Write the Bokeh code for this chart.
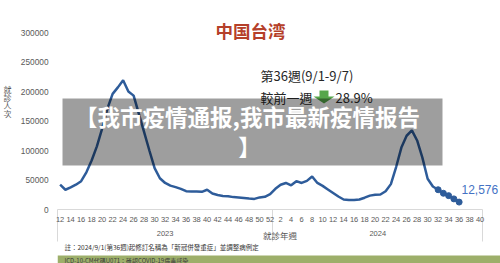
from bokeh.plotting import figure
from bokeh.layouts import column
from bokeh.models import (Range1d, FixedTicker, Label, BoxAnnotation, PolyAnnotation,
                          NumeralTickFormatter, LinearAxis)
from bokeh.embed import file_html
from bokeh.resources import INLINE

# ---------------- data ----------------
weeks_2023 = list(range(12, 53))
cases_2023 = [42000, 33500, 37500, 42000, 48000, 63000, 83000, 107000, 137000, 171000,
              196000, 207000, 219000, 200000, 193000, 162000, 131000, 100000, 70000, 53000,
              45000, 40500, 38000, 35000, 31000, 30500, 30500, 30000, 33500, 27000,
              24500, 23000, 22500, 21000, 20500, 19500, 18500, 18000, 20500, 21500,
              26000]
weeks_2024 = list(range(1, 41))
cases_2024 = [35000, 42000, 45000, 41000, 48000, 45000, 48500, 56000, 45000, 40000,
              34000, 28000, 22000, 17000, 16000, 16000, 17000, 20000, 23500, 25000,
              25500, 31000, 43000, 72000, 105000, 125000, 134000, 117000, 88000, 52000,
              39000, 33500, 27500, 23500, 18000, 12576]
marked_weeks_2024 = [32, 33, 34, 35, 36]
y_ticks = [0, 50000, 100000, 150000, 200000, 250000, 300000]
years = ["2023", "2024"]

title_text = "中国台湾"
week_text = "第36週(9/1-9/7)"
change_text = "較前一週"
change_value = "28.9%"
latest_text = "12,576"
banner_line1 = "【我市疫情通报,我市最新疫情报告"
banner_line2 = "】"
y_title = "就診人次"
x_title = "就診年週"
note_text = "註：2024/9/1(第36週)起修訂名稱為「新冠併發重症」並調整病例定"
footer_text = "ICD-10-CM代碼U071：確認COVID-19病毒感染"

# ---------------- categories -> positions ----------------
categories = [(years[0], w) for w in weeks_2023] + [(years[1], w) for w in weeks_2024]
pos = {c: i for i, c in enumerate(categories)}
n1 = len(weeks_2023)
n_all = len(categories)

line_x = [pos[(years[0], w)] for w in weeks_2023] + \
         [pos[(years[1], w)] for w in weeks_2024[:len(cases_2024)]]
line_y = cases_2023 + cases_2024
mark_x = [pos[(years[1], w)] for w in marked_weeks_2024]
mark_y = [cases_2024[weeks_2024.index(w)] for w in marked_weeks_2024]

tick_pos = [i for i, (yr, w) in enumerate(categories) if w % 2 == 0]
tick_lab = {i: str(categories[i][1]) for i in tick_pos}
separators = [-0.5, n1 - 0.5, n_all - 0.5]
year_pos = [(n1 - 1) / 2, n1 + (n_all - n1 - 1) / 2]

# ---------------- layout ----------------
W, H_MAIN, H_FOOT = 500, 241, 22
FL, FR, FT, FB = 55, 500, 0, 209
CAT_W = 5.25
SEP_LEN = 32
Y_AT_32 = 300000        # value shown at page y=32
x_end = -0.5 + (FR - FL) / CAT_W
y_end = Y_AT_32 * (FB - FT) / (FB - 32)


def y_val(Y):
    """page pixel row -> y data value (layout helper for the stacked y title)"""
    return (FB - Y) / (FB - FT) * y_end


p = figure(frame_width=FR - FL, frame_height=FB - FT,
           x_range=Range1d(-0.5, x_end), y_range=Range1d(0, y_end),
           output_backend="svg", toolbar_location=None,
           min_border_left=FL, min_border_right=W - FR,
           min_border_top=FT, min_border_bottom=H_MAIN - FB)
p.background_fill_color = "white"
p.border_fill_color = "white"
p.outline_line_color = None
p.xgrid.visible = False
p.ygrid.visible = False

LINE = "#2E5C9A"
p.line(line_x, line_y, line_color=LINE, line_width=2.5)
p.scatter(mark_x, mark_y, size=6, fill_color=LINE, line_color=LINE)

AX = "#595959"
xa = p.xaxis[0]
xa.ticker = FixedTicker(ticks=tick_pos, minor_ticks=separators)
xa.major_label_overrides = tick_lab
xa.bounds = (separators[0], separators[-1])
xa.major_tick_line_color = None
xa.major_tick_out = 0
xa.major_tick_in = 0
xa.minor_tick_line_color = "#D9D9D9"
xa.minor_tick_out = SEP_LEN
xa.minor_tick_in = 0
xa.axis_line_color = "#D9D9D9"
xa.major_label_text_font_size = "7.5px"
xa.major_label_text_color = AX
xa.major_label_text_font = "Liberation Sans"
xa.major_label_standoff = 7 - SEP_LEN

xa2 = LinearAxis(ticker=FixedTicker(ticks=year_pos, minor_ticks=[]),
                 major_label_overrides={year_pos[0]: years[0], year_pos[1]: years[1]},
                 axis_line_color=None, major_tick_line_color=None, minor_tick_line_color=None,
                 major_tick_out=0, major_tick_in=0, minor_tick_out=0, minor_tick_in=0,
                 major_label_text_font_size="7.5px", major_label_text_color=AX,
                 major_label_text_font="Liberation Sans", major_label_standoff=6,
                 axis_label=x_title, axis_label_standoff=-10,
                 axis_label_text_font="Noto Sans CJK TC", axis_label_text_font_size="8.5px",
                 axis_label_text_color=AX, axis_label_text_font_style="normal")
p.add_layout(xa2, "below")

ya = p.yaxis[0]
ya.ticker = FixedTicker(ticks=y_ticks)
ya.formatter = NumeralTickFormatter(format="0")
ya.axis_line_color = None
ya.major_tick_line_color = None
ya.major_tick_out = 0
ya.minor_tick_line_color = None
ya.minor_tick_out = 0
ya.major_label_text_font_size = "8.3px"
ya.major_label_text_color = AX
ya.major_label_text_font = "Liberation Sans"
ya.major_label_standoff = 9

# stacked vertical y title: one character per row, outside the value labels
title_rows = [88.5 + 8 * k for k in range(len(y_title))]
title_vals = [y_val(r) for r in title_rows]
yt = LinearAxis(ticker=FixedTicker(ticks=title_vals, minor_ticks=[]),
                major_label_overrides={v: ch for v, ch in zip(title_vals, y_title)},
                axis_line_color=None, major_tick_line_color=None, minor_tick_line_color=None,
                major_tick_out=0, major_tick_in=0, minor_tick_out=0, minor_tick_in=0,
                major_label_text_font_size="8px", major_label_text_color=AX,
                major_label_text_font="Noto Sans CJK TC", major_label_standoff=6)
p.add_layout(yt, "left")


def fx(X):
    return X - FL


def fy(Y):
    return FB - Y


def lab(fig, text, X, Y, size, color, font, align="left", baseline="middle", style="normal",
        ox=FL, oy=FB):
    fig.add_layout(Label(x=X - ox, y=oy - Y, x_units="screen", y_units="screen", text=text,
                         text_font=font, text_font_size=f"{size}px", text_color=color,
                         text_align=align, text_baseline=baseline, text_font_style=style))


SC = "Noto Sans CJK SC"
TC = "Noto Sans CJK TC"

lab(p, title_text, 248, 30, 17.5, "#B5402A", SC, align="center", style="bold")
lab(p, week_text, 258, 75, 13, "#262626", TC)
lab(p, change_text, 258, 97, 13, "#262626", TC)
lab(p, change_value, 333, 97, 13, "#262626", TC)

GREEN = "#56A64B"
ax_ = [317, 326, 326, 332, 321.5, 311, 317]
ay_ = [90, 90, 96, 96, 103, 96, 96]
p.add_layout(PolyAnnotation(xs=[fx(v) for v in ax_], ys=[fy(v) for v in ay_],
                            xs_units="screen", ys_units="screen",
                            fill_color=GREEN, fill_alpha=1, line_color=None))

# banner
p.add_layout(BoxAnnotation(left=fx(60), right=fx(440), top=fy(98), bottom=fy(165),
                           left_units="screen", right_units="screen",
                           top_units="screen", bottom_units="screen",
                           fill_color="black", fill_alpha=0.38, line_color=None))
lab(p, banner_line1, 245, 115, 22.5, "white", SC, align="center", style="bold")
lab(p, banner_line2, 247, 145, 22.5, "white", SC, align="center", style="bold")

lab(p, latest_text, 459, 189, 12, "#4472C4", "Liberation Sans")

# ---------------- footer figure ----------------
q = figure(width=W, height=H_FOOT, x_range=Range1d(0, W), y_range=Range1d(0, H_FOOT),
           x_axis_type=None, y_axis_type=None,
           output_backend="svg", toolbar_location=None,
           min_border_left=0, min_border_right=0, min_border_top=0, min_border_bottom=0)
q.background_fill_color = "white"
q.border_fill_color = "white"
q.outline_line_color = None
q.xgrid.visible = False
q.ygrid.visible = False
BOT_Q = H_MAIN + H_FOOT
q.add_layout(BoxAnnotation(left=0, right=W, top=BOT_Q - 253, bottom=0,
                           left_units="screen", right_units="screen",
                           top_units="screen", bottom_units="screen",
                           fill_color="#9DAF6A", fill_alpha=1, line_color=None))
lab(q, note_text, 7, 244.5, 6.5, "#333333", TC, ox=0, oy=BOT_Q)
lab(q, footer_text, 7, 257.5, 6, "#3A3A3A", TC, ox=0, oy=BOT_Q)

layout = column(p, q, spacing=0)
open("out.html", "w").write(file_html(layout, INLINE))
